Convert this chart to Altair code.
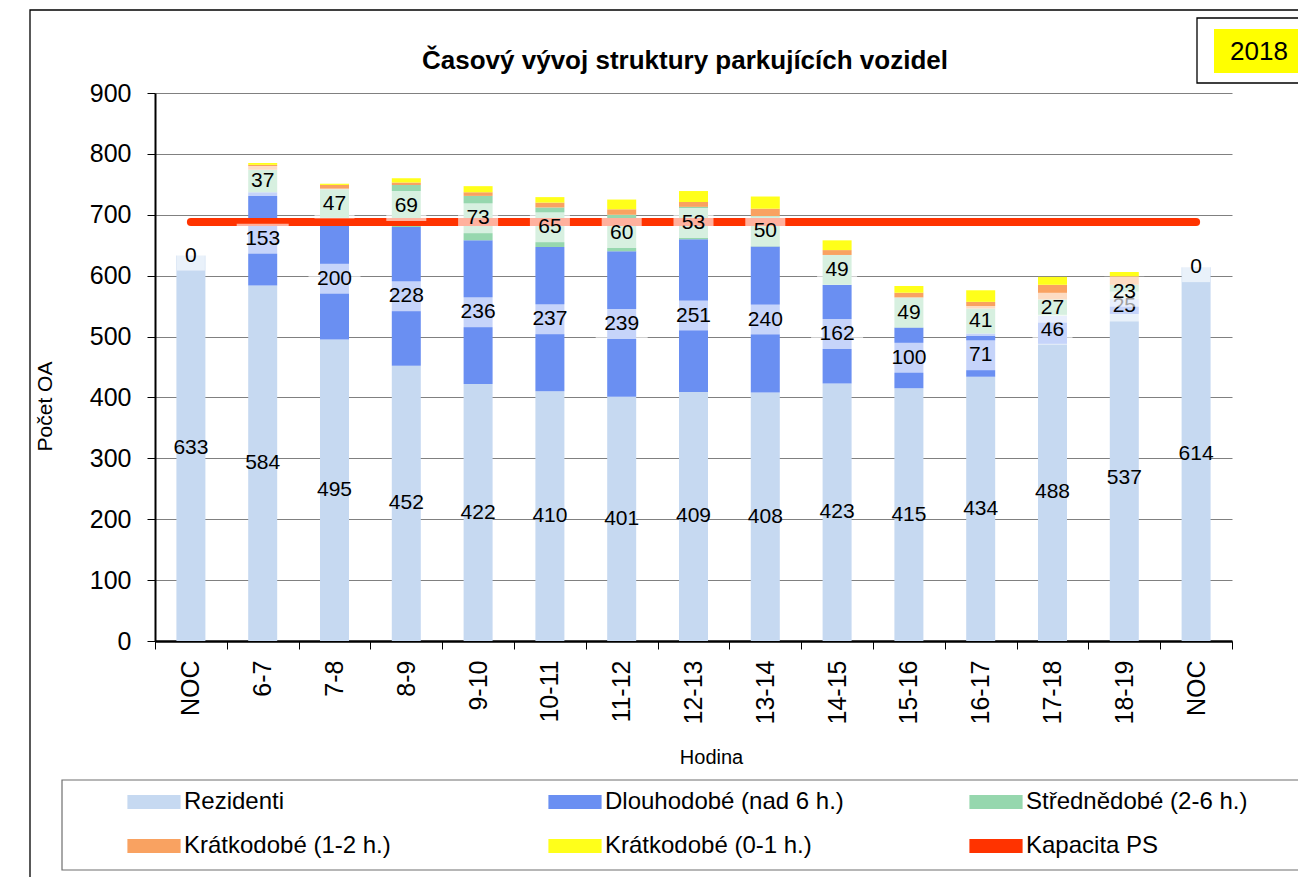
import altair as alt
import pandas as pd

# ---------------- data ----------------
hours = ["NOC", "6-7", "7-8", "8-9", "9-10", "10-11", "11-12", "12-13",
         "13-14", "14-15", "15-16", "16-17", "17-18", "18-19", "NOC"]
rezidenti = [633, 584, 495, 452, 422, 410, 401, 409, 408, 423, 415, 434, 488, 537, 614]
dlouhodobe = [0, 153, 200, 228, 236, 237, 239, 251, 240, 162, 100, 71, 46, 25, 0]
strednedobe = [0, 37, 47, 69, 73, 65, 60, 53, 50, 49, 49, 41, 27, 23, 0]
kratkodobe_12 = [0, 8, 7, 4, 6, 8, 9, 8, 12, 8, 8, 11, 24, 14, 0]
kratkodobe_01 = [0, 3, 2, 7, 10, 9, 16, 18, 20, 16, 11, 19, 13, 7, 0]
kapacita_ps = 688

series_names = ["Rezidenti", "Dlouhodobé (nad 6 h.)", "Střednědobé (2-6 h.)",
                "Krátkodobé (1-2 h.)", "Krátkodobé (0-1 h.)", "Kapacita PS"]
series_colors = ["#C6D9F1", "#6A8FF2", "#96D7AE", "#F9A261", "#FFFF1A", "#FF3300"]
y_ticks = [0, 100, 200, 300, 400, 500, 600, 700, 800, 900]
year_label = "2018"
chart_title = "Časový vývoj struktury parkujících vozidel"

FONT = "Liberation Sans"

stack = [rezidenti, dlouhodobe, strednedobe, kratkodobe_12, kratkodobe_01]
keys = [f"{i:02d}|{h}" for i, h in enumerate(hours)]

bar_rows = []
for s, (name, vals) in enumerate(zip(series_names[:5], stack)):
    for k, v in zip(keys, vals):
        bar_rows.append({"key": k, "series": name, "ord": s, "value": v})
bars_df = pd.DataFrame(bar_rows)


def label_df(s, skip_noc):
    recs = []
    for i, k in enumerate(keys):
        if skip_noc and hours[i] == "NOC":
            continue
        below = sum(stack[j][i] for j in range(s))
        v = stack[s][i]
        t = str(v)
        recs.append({"key": k, "mid": below + v / 2, "text": t, "boxw": 16 + 12 * len(t)})
    return pd.DataFrame(recs)


rez_lab = label_df(0, False)
dl_lab = label_df(1, False)
st_lab = label_df(2, True)
cap_df = pd.DataFrame({"key": keys, "cap": [kapacita_ps] * len(keys)})
dummy = pd.DataFrame({"d": [0]})
year_df = pd.DataFrame({"t": [year_label]})
title_df = pd.DataFrame({"t": [chart_title]})

# ---------------- encodings ----------------
x_axis = alt.Axis(
    title="Hodina", labelExpr="split(datum.label, '|')[1]", labelAngle=270,
    labelFont=FONT, labelFontSize=25, labelColor="black", labelPadding=11,
    tickBand="extent", tickSize=8, tickColor="black", tickWidth=1,
    domainColor="black", domainWidth=2.5, grid=False,
    titleFont=FONT, titleFontSize=20, titleFontWeight="normal", titleColor="black",
    titleX=556, titleY=116, titleAlign="center", titleBaseline="middle",
)
x_enc = alt.X("key:N", sort=keys,
              scale=alt.Scale(domain=keys, paddingInner=0, paddingOuter=0),
              axis=x_axis)

y_axis = alt.Axis(
    title="Počet OA", values=y_ticks,
    labelFont=FONT, labelFontSize=25, labelColor="black", labelPadding=16,
    tickSize=8, tickColor="black", tickWidth=1,
    domainColor="black", domainWidth=2,
    grid=True, gridColor="#808080", gridWidth=1,
    titleFont=FONT, titleFontSize=21, titleFontWeight="normal", titleColor="black",
    titleAngle=270, titleX=-110, titleY=313, titleAlign="center", titleBaseline="middle",
)
y_scale = alt.Scale(domain=[0, 900], nice=False)


def Y(field):
    return alt.Y(field, scale=y_scale, axis=y_axis)


legend = alt.Legend(
    title=None, orient="none", legendX=-15, legendY=695, direction="horizontal",
    columns=3, gridAlign="all", columnPadding=125, rowPadding=18, padding=0,
    symbolType="M-1.9,-0.5L1.9,-0.5L1.9,0.5L-1.9,0.5Z", symbolSize=784,
    symbolStrokeWidth=0, symbolOpacity=1,
    labelFont=FONT, labelFontSize=24, labelColor="black", labelOffset=16,
    labelLimit=500,
)

# ---------------- decorations ----------------
frame = alt.Chart(dummy).mark_rect(fillOpacity=0, stroke="black", strokeWidth=1.3).encode(
    x=alt.value(-125), x2=alt.value(1300), y=alt.value(-83), y2=alt.value(900))
legend_box = alt.Chart(dummy).mark_rect(fillOpacity=0, stroke="#6f6f6f", strokeWidth=1.2).encode(
    x=alt.value(-93), x2=alt.value(1300), y=alt.value(687), y2=alt.value(777))
year_box = alt.Chart(dummy).mark_rect(fill="white", stroke="black", strokeWidth=1.3).encode(
    x=alt.value(1042), x2=alt.value(1300), y=alt.value(-75), y2=alt.value(-10))
year_fill = alt.Chart(dummy).mark_rect(fill="#FFFF00").encode(
    x=alt.value(1059), x2=alt.value(1300), y=alt.value(-64), y2=alt.value(-20))
year_text = alt.Chart(year_df).mark_text(
    font=FONT, fontSize=26, color="black", align="center", baseline="middle").encode(
    x=alt.value(1104), y=alt.value(-41), text="t:N")
title_text = alt.Chart(title_df).mark_text(
    font=FONT, fontSize=26, fontWeight="bold", color="black", align="center",
    baseline="alphabetic").encode(
    x=alt.value(530), y=alt.value(-24), text="t:N")

# ---------------- data marks ----------------
bars = alt.Chart(bars_df).mark_bar(size=29).encode(
    x=x_enc,
    y=alt.Y("value:Q", stack="zero", scale=y_scale, axis=y_axis),
    color=alt.Color("series:N", scale=alt.Scale(domain=series_names, range=series_colors),
                    legend=legend),
    order=alt.Order("ord:Q", sort="ascending"),
)

cap_line = alt.Chart(cap_df).mark_line(color="#FF3300", strokeWidth=8, strokeCap="round").encode(
    x=x_enc, y=Y("cap:Q"))


def boxes(df):
    return alt.Chart(df).mark_bar(color="white", opacity=0.62, yOffset=-15, y2Offset=15).encode(
        x=x_enc, y=Y("mid:Q"), y2=alt.Y2("mid:Q"), size=alt.Size("boxw:Q", scale=None))


def texts(df):
    return alt.Chart(df).mark_text(font=FONT, fontSize=21, color="black", baseline="middle").encode(
        x=x_enc, y=Y("mid:Q"), text="text:N")


chart = alt.layer(
    frame, legend_box, year_box, year_fill, year_text, title_text,
    bars, cap_line,
    texts(rez_lab),
    boxes(dl_lab), texts(dl_lab),
    boxes(st_lab), texts(st_lab),
).properties(
    width=1077, height=548,
    autosize=alt.AutoSizeParams(type="none"),
    padding={"left": 147, "top": 85, "right": 66, "bottom": 236},
).configure_view(strokeWidth=0)

chart.save("out.html", embed_options={"renderer": "svg", "actions": False})
